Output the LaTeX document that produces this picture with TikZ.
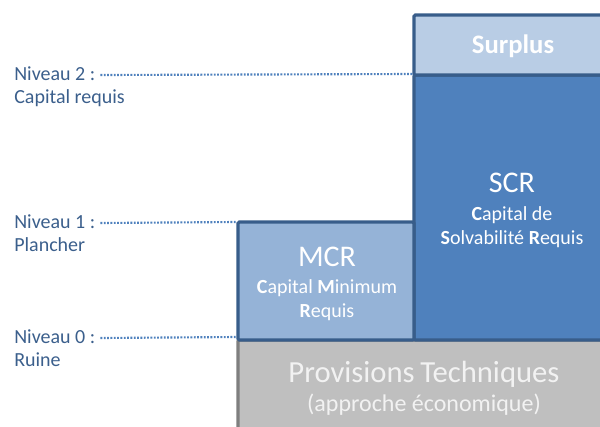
\documentclass[tikz,border=0pt]{standalone}
\usepackage{fontspec}
\setmainfont{Carlito}
\usepackage{tikz}
\usetikzlibrary{fit, calc}

\definecolor{niveautxt}{HTML}{3B5F8C}
\definecolor{niveaudot}{HTML}{4F81BD}
\definecolor{bordbleu}{HTML}{385D8A}
\definecolor{surplusbg}{HTML}{B9CDE5}
\definecolor{scrbg}{HTML}{4F81BD}
\definecolor{mcrbg}{HTML}{95B3D7}
\definecolor{ptbg}{HTML}{BFBFBF}
\definecolor{ptbord}{HTML}{7F7F7F}

\tikzset{
	niveau/.style={text=niveautxt, anchor=west, inner sep=0pt, font=\fontsize{15}{18}\selectfont},
	pointille/.style={draw=niveaudot, line width=1.6pt, dash pattern=on 1.4pt off 1.1pt},
	bloc/.style={draw=bordbleu, line width=2.3pt, inner sep=0pt, rounded corners=1pt},
	titre/.style={text=white, inner sep=0pt, font=\fontsize{22.5}{26}\selectfont},
	soustitre/.style={text=white, inner sep=0pt, align=center, font=\fontsize{15}{18}\selectfont},
}

\begin{document}
\begin{tikzpicture}[x=0.75pt, y=-0.75pt]

	\useasboundingbox (0,0) rectangle (600,426);
	\clip (0,0) rectangle (600,426);

	% blocs
	\node[bloc, draw=ptbord, fill=ptbg, fit={(238,340) (612,445)}] (pt) {};
	\node[bloc, fill=scrbg, fit={(414,75) (612,340)}] (scr) {};
	\node[bloc, fill=mcrbg, fit={(238,222) (414,340)}] (mcr) {};
	\node[bloc, fill=surplusbg, fit={(414,15) (612,75)}] (surplus) {};

	% textes des blocs
	\node[text=white, inner sep=0pt, font=\fontsize{20}{24}\selectfont\bfseries] (surplustxt) at (513,46) {Surplus};

	\node[titre] (scrtxt) at (512,183) {SCR};
	\node[soustitre] (scrdef) at (512,227) {\textbf{C}apital de\\ \textbf{S}olvabilité \textbf{R}equis};

	\node[titre] (mcrtxt) at (327,257) {MCR};
	\node[soustitre] (mcrdef) at (327,300) {\textbf{C}apital \textbf{M}inimum\\ \textbf{R}equis};

	\node[text=white!95!black, inner sep=0pt, font=\fontsize{23}{27}\selectfont] (pttxt) at (424,374) {Provisions\hspace{-1pt} Techniques};
	\node[text=white!95!black, inner sep=0pt, font=\fontsize{18}{22}\selectfont] (ptdef) at (424,405) {(approche économique)};

	% niveaux
	\node[niveau] (n2) at (14,74) {Niveau 2 :};
	\node[niveau] (n2b) at (14,98) {Capital requis};
	\node[niveau] (n1) at (14,222) {Niveau 1 :};
	\node[niveau] (n1b) at (14,245) {Plancher};
	\node[niveau] (n0) at (14,337) {Niveau 0 :};
	\node[niveau] (n0b) at (14,360) {Ruine};

	\draw[pointille] ($ (n2.east)+(5,1) $) -- (n2.east -| surplus.south west);
	\draw[pointille] ($ (n1.east)+(5,1) $) -- (n1.east -| mcr.north west);
	\draw[pointille] ($ (n0.east)+(5,1) $) -- (n0.east -| mcr.south west);

\end{tikzpicture}
\end{document}
